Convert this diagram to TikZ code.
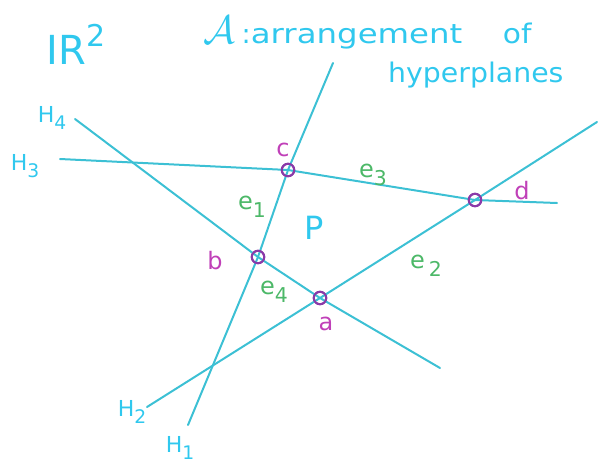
\documentclass[tikz,border=0pt]{standalone}
\usepackage{fontspec}
\setmainfont{DejaVu Sans}
\newcommand{\lowsub}[1]{\raisebox{-0.35em}{\scalebox{0.85}{#1}}}
\begin{document}
\begin{tikzpicture}[x=1pt,y=-1pt,
  hline/.style={draw=linecol, line width=2pt, line cap=round, line join=round},
  vtx/.style={circle, draw=ptcol, line width=2pt, inner sep=0pt, minimum size=12.5pt},
  blab/.style={text=labcol, font=\fontsize{27}{30}\selectfont},
  mlab/.style={text=maglab, font=\fontsize{24}{26}\selectfont},
  glab/.style={text=grlab, font=\fontsize{24}{26}\selectfont},
  hlab/.style={text=labcol, font=\fontsize{22}{24}\selectfont}]
\definecolor{linecol}{HTML}{3CC0D4}
\definecolor{labcol}{HTML}{30C8EE}
\definecolor{ptcol}{HTML}{8A3AA8}
\definecolor{maglab}{HTML}{C040B8}
\definecolor{grlab}{HTML}{4CB868}
\useasboundingbox (0,0) rectangle (598,466);
% vertices
\node[vtx] (c) at (288,170) {};
\node[vtx] (b) at (258,257) {};
\node[vtx] (a) at (320,298) {};
\node[vtx] (d) at (475,200) {};
% line ends
\coordinate (h1t) at (333,63);
\coordinate (h1b) at (188,425);
\coordinate (h2l) at (147,407);
\coordinate (h2r) at (597,122);
\coordinate (h3l) at (60,159);
\coordinate (h3r) at (557,203);
\coordinate (h4t) at (75,119);
\coordinate (h4b) at (440,368);
% hyperplanes
\draw[hline] (h1t) -- (c.center) -- (b.center) -- (h1b);
\draw[hline] (h2l) -- (a.center) -- (d.center) -- (h2r);
\draw[hline] (h3l) -- (c.center) -- (d.center) -- (h3r);
\draw[hline] (h4t) -- (b.center) -- (a.center) -- (h4b);
% redraw vertices on top
\node[vtx] at (c) {};
\node[vtx] at (b) {};
\node[vtx] at (a) {};
\node[vtx] at (d) {};
% titles
\node[blab, font=\fontsize{40}{42}\selectfont] (r2) at (76,44) {IR\raisebox{0.45em}{\scalebox{0.75}{2}}};
\node[blab, anchor=base west, inner sep=0pt] (t1) at (203,43) {\scalebox{1.6}{$\mathcal{A}$}\hspace{0.25em}:\scalebox{1.2}[1]{arrangement}\hspace{1.5em}\scalebox{1.1}[1]{of}};
\node[blab, anchor=base west, inner sep=0pt] (t2) at (388,82) {\scalebox{1.05}[1]{hyperplanes}};
% hyperplane labels
\node[hlab] (l4) at (52,118) {H\lowsub{4}};
\node[hlab] (l3) at (25,166) {H\lowsub{3}};
\node[hlab] (l2) at (132,412) {H\lowsub{2}};
\node[hlab] (l1) at (180,448) {H\lowsub{1}};
% vertex labels
\node[mlab] (lc) at (283,150) {c};
\node[mlab] (ld) at (522,191) {d};
\node[mlab] (lb) at (215,261) {b};
\node[mlab] (la) at (326,324) {a};
% edge labels
\node[glab] (e1) at (252,207) {e\lowsub{1}};
\node[glab] (e3) at (373,175) {e\lowsub{3}};
\node[glab] (e2) at (426,266) {e\,\lowsub{2}};
\node[glab] (e4) at (274,292) {e\lowsub{4}};
\node[blab, font=\fontsize{32}{34}\selectfont] (P) at (314,228) {P};
\end{tikzpicture}
\end{document}
